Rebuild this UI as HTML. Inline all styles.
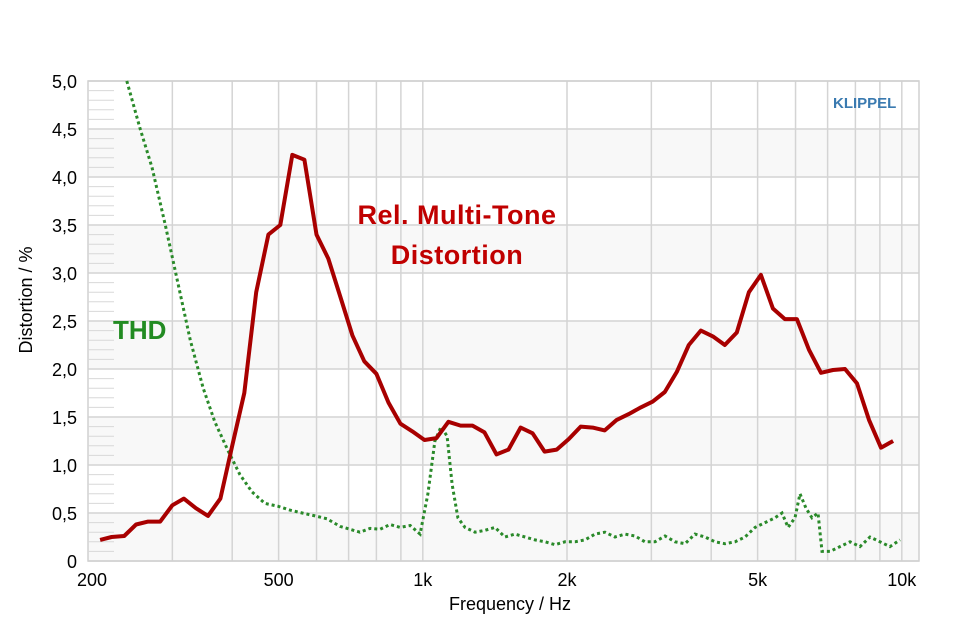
<!DOCTYPE html>
<html><head><meta charset="utf-8"><style>
body{margin:0;background:#fff;}
svg{display:block;font-family:"Liberation Sans",sans-serif;}
</style></head><body>
<svg id="chart" width="956" height="627">
<g id="bands"></g><g id="grid"></g><g id="ticks"></g>
<g id="series"></g>
<g id="labels"></g>
<text x="457" y="224" font-size="27" font-weight="bold" fill="#c00000" text-anchor="middle" letter-spacing="0.5">Rel. Multi-Tone</text>
<text x="457" y="264" font-size="27" font-weight="bold" fill="#c00000" text-anchor="middle" letter-spacing="0.5">Distortion</text>
<text x="113" y="339" font-size="26" font-weight="bold" fill="#228b22">THD</text>
<text x="833" y="108" font-size="15" font-weight="bold" fill="#3a7ab0">KLIPPEL</text>
<text x="510" y="610" font-size="18" text-anchor="middle">Frequency / Hz</text>
<text transform="translate(32,300) rotate(-90)" font-size="18" text-anchor="middle">Distortion / %</text>
</svg>
<script>
const mtdFreq=[212,224,238,252,267,283,300,317,336,356,378,400,424,449,476,504,534,566,600,635,673,713,755,800,848,898,951,1008,1068,1131,1199,1270,1345,1425,1510,1600,1695,1796,1903,2016,2136,2263,2397,2540,2691,2851,3020,3200,3390,3592,3805,4032,4271,4525,4794,5079,5381,5701,6040,6400,6780,7183,7610,8063,8542,9050,9588];
const mtdVal=[0.22,0.25,0.26,0.38,0.41,0.41,0.58,0.65,0.55,0.47,0.65,1.2,1.75,2.8,3.4,3.5,4.23,4.18,3.4,3.15,2.75,2.35,2.08,1.95,1.65,1.43,1.35,1.26,1.28,1.45,1.41,1.41,1.34,1.11,1.16,1.39,1.33,1.14,1.16,1.27,1.4,1.39,1.36,1.47,1.53,1.6,1.66,1.76,1.97,2.25,2.4,2.34,2.25,2.38,2.8,2.98,2.63,2.52,2.52,2.2,1.96,1.99,2.0,1.85,1.47,1.18,1.25];
const thdFreq=[241,257,272,290,308,327,348,368,392,415,440,468,499,528,560,596,631,672,705,739,776,814,854,896,941,987,1025,1060,1092,1124,1151,1184,1225,1285,1349,1415,1484,1558,1634,1715,1799,1888,1981,2078,2181,2288,2400,2519,2643,2773,2910,3053,3203,3361,3527,3700,3883,4074,4275,4486,4706,4939,5182,5437,5623,5788,5984,6129,6310,6494,6683,6813,7083,7430,7796,8180,8583,9005,9449,9914];
const thdVal=[5.0,4.5,4.1,3.5,2.9,2.3,1.8,1.45,1.15,0.9,0.72,0.6,0.57,0.53,0.5,0.47,0.44,0.36,0.33,0.3,0.34,0.33,0.38,0.35,0.37,0.28,0.7,1.25,1.4,1.3,0.8,0.45,0.35,0.3,0.32,0.35,0.25,0.28,0.25,0.22,0.2,0.17,0.2,0.2,0.22,0.28,0.3,0.25,0.28,0.26,0.2,0.2,0.26,0.2,0.18,0.28,0.25,0.2,0.18,0.2,0.25,0.35,0.4,0.45,0.5,0.35,0.45,0.7,0.55,0.45,0.5,0.1,0.1,0.15,0.2,0.15,0.25,0.2,0.15,0.22];
const yTicks=["0","0,5","1,0","1,5","2,0","2,5","3,0","3,5","4,0","4,5","5,0"];
const xTickVals=[200,500,1000,2000,5000,10000];
const xTickLabels=["200","500","1k","2k","5k","10k"];
const gridFreqs=[300,400,500,600,700,800,900,1000,2000,3000,4000,5000,6000,7000,8000,9000,10000];
const X0=88,X1=919,Y0=561,Y1=81,PPD=479;
const xs=f=>X0+Math.log10(f/200)*PPD;
const ys=v=>Y0-(v/5)*(Y0-Y1);
const NS='http://www.w3.org/2000/svg';
function mk(tag,parent,attrs){const e=document.createElementNS(NS,tag);for(const k in attrs)e.setAttribute(k,attrs[k]);document.getElementById(parent).appendChild(e);return e;}
for(let i=0;i<5;i++){const r=mk('rect','bands',{x:X0,y:ys(i+0.5),width:X1-X0,height:ys(i)-ys(i+0.5),fill:'#f8f8f8'});

}
yTicks.forEach((t,i)=>{const v=i*0.5;const l=mk('line','grid',{x1:X0,x2:X1,y1:ys(v),y2:ys(v),stroke:'#d4d4d4','stroke-width':1.5});


const tx=mk('text','labels',{x:77,y:ys(v)+7,'font-size':18,'text-anchor':'end'});tx.textContent=t;

});
for(let k=0;k<50;k++){if(k%5===0)continue;const v=k*0.1;const l=mk('line','ticks',{x1:X0,x2:X0+26,y1:ys(v),y2:ys(v),stroke:'#d8d8d8','stroke-width':1});

}
gridFreqs.forEach(f=>{const l=mk('line','grid',{x1:xs(f),x2:xs(f),y1:Y1,y2:Y0,stroke:'#d4d4d4','stroke-width':1.5});

});
const fr=mk('rect','grid',{x:X0,y:Y1,width:X1-X0,height:Y0-Y1,fill:'none',stroke:'#d0d0d0','stroke-width':1.5});


xTickVals.forEach((f,i)=>{const tx=mk('text','labels',{x:xs(f)+(i===0?4:0),y:586,'font-size':18,'text-anchor':'middle'});tx.textContent=xTickLabels[i];

});
const thdPts=thdFreq.map((f,i)=>xs(f).toFixed(1)+','+ys(thdVal[i]).toFixed(1)).join(' ');
const g=mk('polyline','series',{points:thdPts,fill:'none',stroke:'#2a8a2a','stroke-width':3,'stroke-dasharray':'3 3'});


const mtdPts=mtdFreq.map((f,i)=>xs(f).toFixed(1)+','+ys(mtdVal[i]).toFixed(1)).join(' ');
const r=mk('polyline','series',{points:mtdPts,fill:'none',stroke:'#a80000','stroke-width':4,'stroke-linejoin':'round'});


</script>
</body></html>
